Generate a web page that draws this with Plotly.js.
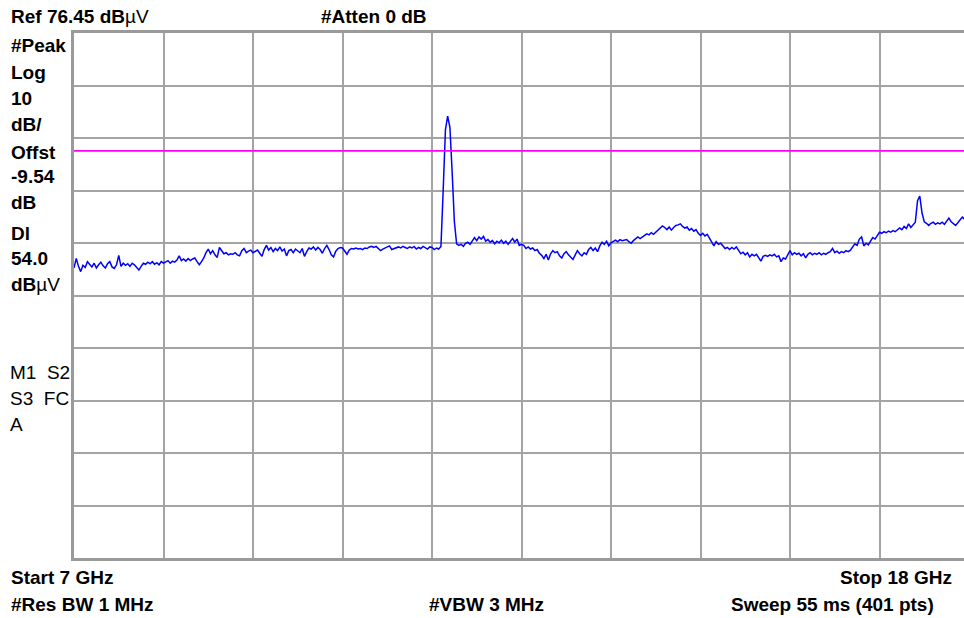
<!DOCTYPE html>
<html>
<head>
<meta charset="utf-8">
<script src="https://cdn.plot.ly/plotly-3.0.1.min.js"></script>
<style>html,body{margin:0;padding:0;background:#fff;}#chart{width:964px;height:618px;}</style>
</head>
<body>
<div id="chart"></div>
<script>
// Sweep settings
const startGHz = 7;
const stopGHz = 18;
const sweepPoints = 401;
const refLevel = 76.45;      // dBµV
const dbPerDiv = 10;
const displayLine = 54.0;    // dBµV

// Trace amplitude (dBµV), 401 points
const traceDbuV = [
31.7,33.5,32.0,31.0,32.2,31.8,32.9,32.4,31.9,32.6,31.7,32.3,32.8,32.1,31.7,32.5,32.9,31.9,31.6,32.3,
34.1,32.0,32.6,32.2,32.5,32.0,32.6,32.3,31.8,31.3,32.0,32.6,32.4,32.8,32.5,32.9,32.4,32.7,32.3,32.9,
32.6,32.9,33.1,32.6,33.0,32.8,33.2,34.0,33.1,33.4,33.0,33.5,33.1,33.4,33.6,32.9,32.3,32.9,33.6,34.6,
35.3,34.4,35.0,34.2,33.7,35.6,35.0,34.4,34.6,34.2,34.4,34.3,34.6,34.2,34.0,35.0,35.4,34.6,34.9,35.1,
34.6,34.8,35.1,34.5,33.9,35.2,36.0,35.1,35.6,34.8,35.4,35.0,35.7,34.9,35.3,34.0,35.0,35.2,34.6,35.3,
35.0,34.6,35.4,33.9,34.8,35.5,35.3,35.7,35.1,35.6,35.2,34.5,35.4,36.0,35.2,34.2,33.8,34.9,35.4,35.6,
35.5,35.0,34.3,35.1,35.4,35.3,35.5,35.3,35.4,35.2,35.5,35.4,35.7,35.8,35.6,35.8,35.4,35.0,35.3,35.5,
35.7,35.9,35.2,35.4,35.6,35.7,35.5,35.8,35.6,35.4,35.7,35.5,35.8,35.3,35.6,35.4,35.8,35.5,35.3,35.7,
35.6,35.2,35.5,35.3,35.8,46.5,58.0,60.6,58.5,50.0,40.5,36.3,36.0,36.2,35.8,36.4,36.6,36.2,36.8,37.5,
36.9,37.6,37.2,37.7,36.8,37.1,36.6,36.9,36.3,36.8,36.5,37.0,36.4,36.8,36.2,36.7,37.3,36.6,37.2,36.0,
36.2,36.0,35.4,35.7,35.3,35.5,35.0,35.2,34.5,34.1,33.5,34.3,33.2,34.4,35.0,34.6,34.8,34.0,33.6,34.4,
34.8,34.2,33.8,33.3,34.2,35.0,34.4,34.0,34.6,34.3,35.2,35.6,35.0,35.5,34.8,35.9,36.6,36.2,36.8,35.9,
36.5,36.8,37.0,36.7,37.1,36.9,37.0,37.1,36.7,36.4,36.9,37.2,37.6,37.3,37.6,37.9,38.2,38.0,38.4,38.1,
38.5,39.0,39.3,39.7,39.4,39.0,39.5,38.9,39.4,39.8,39.9,40.1,39.6,39.3,39.5,38.9,39.2,38.7,39.0,38.3,
37.9,38.3,37.8,38.1,37.4,36.6,35.9,36.7,36.2,36.4,35.8,35.4,35.6,35.2,35.6,35.3,35.7,35.0,34.4,34.7,
34.2,34.6,33.8,34.3,34.0,34.3,33.6,33.0,33.9,34.1,33.9,34.2,34.0,34.3,33.8,34.0,32.9,33.6,33.4,34.2,
35.0,34.2,34.6,34.3,34.5,34.0,34.4,33.6,34.3,34.6,34.2,34.5,34.3,34.6,34.2,34.5,34.3,34.6,34.8,35.4,
34.6,34.9,34.5,34.8,34.6,35.0,34.8,35.1,35.6,36.3,36.0,37.2,37.6,35.9,36.4,36.1,36.8,37.5,37.2,38.0,
38.5,38.3,38.6,38.4,38.7,38.5,38.8,38.6,38.9,39.3,39.0,39.6,39.2,40.1,39.4,39.9,40.4,44.5,45.4,42.2,
40.5,40.2,39.8,40.2,40.4,40.0,40.3,40.1,40.4,40.0,40.6,41.2,40.5,40.2,39.8,40.3,40.9,41.4,41.0,40.6,
40.8
];

// Screen annotation texts
const headerLeft = "<b>Ref 76.45 dB</b>µV";
const headerMid = "<b>#Atten 0 dB</b>";
const sideLabels = ["<b>#Peak</b>","<b>Log</b>","<b>10</b>","<b>dB/</b>","<b>Offst</b>","<b>-9.54</b>","<b>dB</b>","<b>Dl</b>","<b>54.0</b>","<b>dB</b>µV"];
const statusLabels = ["M1\u00A0\u00A0S2","S3\u00A0\u00A0FC","A"];
const footStart = "<b>Start 7 GHz</b>";
const footStop = "<b>Stop 18 GHz</b>";
const footRbw = "<b>#Res BW 1 MHz</b>";
const footVbw = "<b>#VBW 3 MHz</b>";
const footSweep = "<b>Sweep 55 ms (401 pts)</b>";

// Layout geometry (pixels)
const W = 964, H = 618;
const mL = 74, mR = 0, mT = 33, mB = 60;
const plotW = W - mL - mR, plotH = H - mT - mB;
const divPx = 89.5; // width of one horizontal division
const spanPerDiv = (stopGHz - startGHz) / 10;
const xMax = startGHz + plotW / divPx * spanPerDiv; // right part of screen is cut off

const freqs = traceDbuV.map((_, i) => startGHz + i * (stopGHz - startGHz) / (sweepPoints - 1));

function px(x){ return (x - mL) / plotW; }
function py(y){ return (H - mB - y) / plotH; }

const FONT = "Liberation Sans, Arial, sans-serif";
const annotations = [];
function addText(text, x, y, anchor){
  annotations.push({text: text, xref: 'paper', yref: 'paper', x: px(x), y: py(y),
    xanchor: anchor || 'left', yanchor: 'middle', showarrow: false,
    font: {family: FONT, size: 19, color: '#000'}});
}
addText(headerLeft, 9, 17);
addText(headerMid, 319, 17);
const sideY = [45, 72, 98, 124, 152, 177, 203, 233, 258, 284];
sideLabels.forEach((t, i) => addText(t, 9, sideY[i]));
const statusY = [372, 398, 425];
statusLabels.forEach((t, i) => addText(t, 8, statusY[i]));
addText(footStart, 9, 577);
addText(footStop, 954, 577, 'right');
addText(footRbw, 9, 604);
addText(footVbw, 427, 604);
addText(footSweep, 936, 604, 'right');

const data = [
  {x: freqs, y: traceDbuV, type: 'scatter', mode: 'lines',
   line: {color: '#0000ff', width: 1.5}, hoverinfo: 'skip'},
  {x: [startGHz, stopGHz], y: [displayLine, displayLine], type: 'scatter', mode: 'lines',
   line: {color: '#ff00ff', width: 1.6}, hoverinfo: 'skip'}
];

const layout = {
  width: W, height: H,
  margin: {l: mL, r: mR, t: mT, b: mB, pad: 0},
  paper_bgcolor: '#ffffff', plot_bgcolor: '#ffffff',
  showlegend: false,
  xaxis: {range: [startGHz, xMax], tick0: startGHz, dtick: spanPerDiv,
    showgrid: true, gridcolor: '#a4a4a4', gridwidth: 2,
    showticklabels: false, ticks: '', zeroline: false,
    showline: true, mirror: true, linecolor: '#9a9a9a', linewidth: 3},
  yaxis: {range: [refLevel - 10 * dbPerDiv, refLevel], tick0: refLevel, dtick: dbPerDiv,
    showgrid: true, gridcolor: '#a4a4a4', gridwidth: 2,
    showticklabels: false, ticks: '', zeroline: false,
    showline: true, mirror: false, linecolor: '#9a9a9a', linewidth: 3},
  annotations: annotations
};

Plotly.newPlot('chart', data, layout, {staticPlot: true, displayModeBar: false});
</script>
</body>
</html>
